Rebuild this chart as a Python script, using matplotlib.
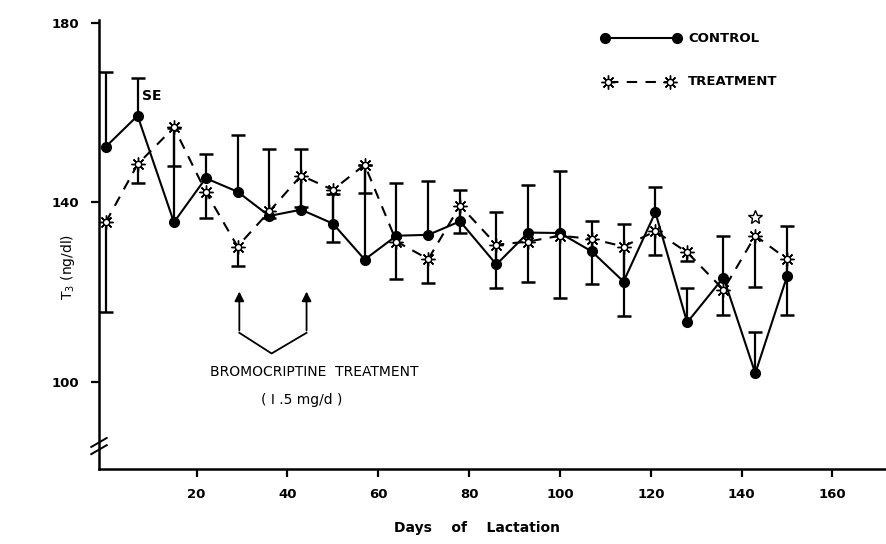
import matplotlib
matplotlib.use("Agg")
import matplotlib.pyplot as plt
import numpy as np

# ---- data ----
days = [0, 7, 15, 22, 29, 36, 43, 50, 57, 64, 71, 78, 86, 93, 100, 107, 114, 121, 128, 136, 143, 150]
control = [152.4, 159.3, 135.6, 145.4, 142.4, 137.0, 138.4, 135.3, 127.3, 132.6, 132.8, 135.8,
           126.2, 133.3, 133.2, 129.1, 122.4, 137.8, 113.3, 123.3, 102.0, 123.6]
control_se = [16.7, 8.3, 21.0, 5.4, 12.6, 15.0, 13.5, 6.6, 21.0, 11.8, 12.0, 6.9,
              11.6, 10.6, 13.7, 6.7, 12.9, 5.6, 7.7, 9.3, 9.1, 11.1]
treatment = [135.6, 148.5, 156.7, 142.4, 130.2, 138.0, 146.0, 142.8, 148.4, 131.3, 127.4, 139.3,
             130.6, 131.3, 132.6, 131.9, 130.2, 133.6, 128.9, 120.6, 132.6, 127.4]
treatment_se = [20.0, 4.1, 8.5, 5.9, 4.4, 1.5, 7.0, 11.5, 6.4, 8.3, 5.3, 6.0,
                9.6, 8.9, 13.8, 10.0, 15.4, 5.2, 2.0, 5.6, 11.4, 12.4]
sig_day = [143]
sig_value = [136.8]
xticks = [20, 40, 60, 80, 100, 120, 140, 160]
yticks = [100, 140, 180]

days_a = np.array(days)
c = np.array(control); cse = np.array(control_se)
t = np.array(treatment); tse = np.array(treatment_se)

fig = plt.figure(figsize=(8.87, 5.44), dpi=100)
ax = fig.add_axes([0.1116, 0.1379, 0.8884, 0.8245])
ax.set_xlim(-1.5, 172)
ax.set_ylim(80.7, 180.5)

k = 'black'
# error bars (control upward, treatment downward)
ax.vlines(days_a, c, c + cse, color=k, lw=1.6, zorder=2)
ax.plot(days_a, c + cse, linestyle='none', marker='_', markersize=10, mew=1.8, color=k, zorder=2)
ax.vlines(days_a, t - tse, t, color=k, lw=1.6, zorder=2)
ax.plot(days_a, t - tse, linestyle='none', marker='_', markersize=10, mew=1.8, color=k, zorder=2)

# series
ax.plot(days_a, c, color=k, lw=1.5, marker='o', markersize=7, zorder=4)
ax.plot(days_a, t, color=k, lw=1.5, linestyle=(0, (5, 4)), zorder=3)
ax.plot(days_a, t, linestyle='none', marker=(8, 2, 0), markersize=10, mew=1.0, color=k, zorder=5)
ax.plot(days_a, t, linestyle='none', marker='o', markersize=4.5, mfc='white', mec=k, mew=1.0, zorder=6)
ax.plot(sig_day, sig_value, linestyle='none', marker='*', markersize=10, mfc='white', mec=k, mew=1.0, zorder=6)

# spines / ticks
for s in ['top', 'right']:
    ax.spines[s].set_visible(False)
for s in ['left', 'bottom']:
    ax.spines[s].set_linewidth(1.8)
ax.set_xticks(xticks)
ax.set_xticklabels([str(v) for v in xticks], fontweight='bold', fontsize=9.5)
ax.set_yticks(yticks)
ax.set_yticklabels([str(v) for v in yticks], fontweight='bold', fontsize=9.5)
ax.tick_params(axis='both', direction='out', length=6, width=1.6, pad=8)

# axis break marks on y axis
for dy in (0, 1.6):
    ax.plot([-3.2, 0.2], [84.0 + dy, 86.0 + dy], color=k, lw=1.4, clip_on=False, zorder=7)

ax.set_xlabel('Days    of    Lactation', fontweight='bold', fontsize=10, labelpad=22)
ax.xaxis.set_label_coords(0.48, -0.115)
ax.set_ylabel(r'T$_3$ (ng/dl)', fontsize=10)
ax.yaxis.set_label_coords(-0.028, 0.45)

# SE label
ax.text(7.9, 163.6, 'SE', fontsize=10, fontweight='bold', va='center', ha='left')

# bromocriptine arrows
ax.plot([29.4, 36.5, 44.2], [111.0, 106.4, 111.0], color=k, lw=1.3)
for xa in (29.4, 44.2):
    ax.annotate('', xy=(xa, 120.8), xytext=(xa, 110.9),
                arrowprops=dict(arrowstyle='-|>', color=k, lw=1.3, mutation_scale=14))
ax.text(46.0, 102.2, 'BROMOCRIPTINE  TREATMENT', fontsize=10, ha='center', va='center')
ax.text(43.2, 96.1, '( I .5 mg/d )', fontsize=10, ha='center', va='center')

# legend drawn manually
ax.plot([109.9, 125.7], [176.5, 176.5], color=k, lw=1.5, marker='o', markersize=7)
ax.text(128.2, 176.5, 'CONTROL', fontsize=9.5, fontweight='bold', va='center')
ax.plot([110.5, 124.2], [166.9, 166.9], color=k, lw=1.5, linestyle=(0, (5, 4)))
ax.plot([110.5, 124.2], [166.9, 166.9], linestyle='none', marker=(8, 2, 0), markersize=10, mew=1.0, color=k)
ax.plot([110.5, 124.2], [166.9, 166.9], linestyle='none', marker='o', markersize=4.5, mfc='white', mec=k, mew=1.0)
ax.text(128.2, 166.9, 'TREATMENT', fontsize=9.5, fontweight='bold', va='center')

fig.savefig('out.png', dpi=100)
